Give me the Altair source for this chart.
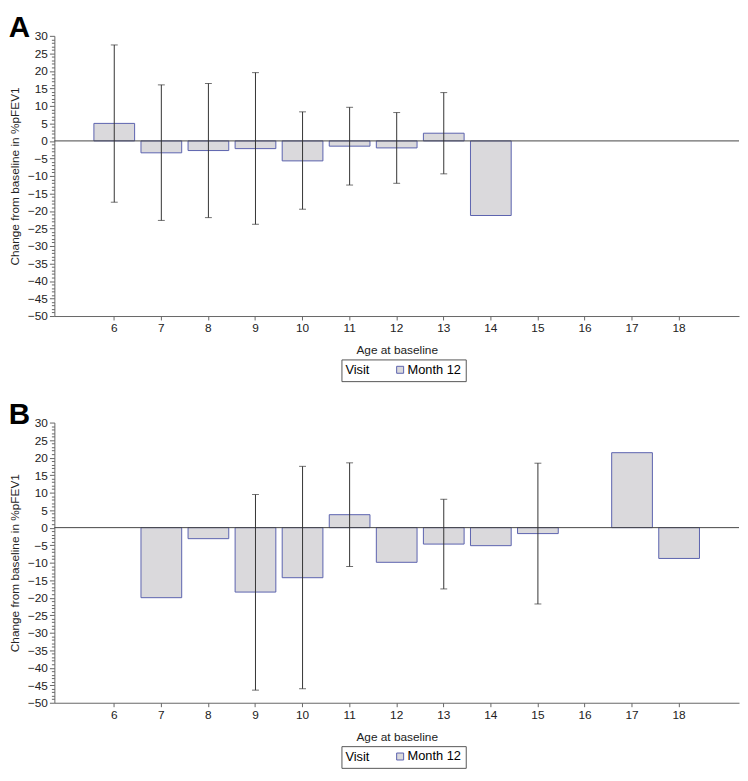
import altair as alt
import pandas as pd

ages = [6, 7, 8, 9, 10, 11, 12, 13, 14, 15, 16, 17, 18]

# Panel A
a_age = [6, 7, 8, 9, 10, 11, 12, 13, 14]
a_mean = [5.0, -3.4, -2.75, -2.2, -5.7, -1.5, -2.0, 2.2, -21.3]
a_err_age = [6, 7, 8, 9, 10, 11, 12, 13]
a_lo = [-17.5, -22.7, -21.9, -23.8, -19.5, -12.6, -12.1, -9.4]
a_hi = [27.4, 16.0, 16.4, 19.5, 8.3, 9.6, 8.1, 13.8]

# Panel B
b_age = [7, 8, 9, 10, 11, 12, 13, 14, 15, 17, 18]
b_mean = [-20.0, -3.15, -18.4, -14.3, 3.7, -9.9, -4.7, -5.15, -1.7, 21.4, -8.8]
b_err_age = [9, 10, 11, 13, 15]
b_lo = [-46.4, -46.0, -11.1, -17.5, -21.8]
b_hi = [9.45, 17.5, 18.5, 8.1, 18.4]

y_ticks = list(range(-50, 31))
zero = [0]
visit = "Month 12"

FONT = "Liberation Sans"
W, H = 694, 284
BAR_FILL = "#dad9dc"
BAR_STROKE = "#5a62ae"
ERR = "#333333"


def panel(letter, age, mean, e_age, lo, hi):
    bars_df = pd.DataFrame({"Age": age, "Mean": mean, "Visit": [visit] * len(age)})
    err_df = pd.DataFrame({"Age": e_age, "lo": lo, "hi": hi})
    zero_df = pd.DataFrame({"v": zero})

    xscale = alt.Scale(domain=ages, paddingInner=0.135, paddingOuter=0.84)
    xaxis = alt.Axis(
        title="Age at baseline",
        labelAngle=0,
        tickSize=4,
        labelPadding=3,
        titlePadding=11,
    )
    yscale = alt.Scale(domain=[-50, 30], nice=False, zero=False)
    yaxis = alt.Axis(
        title="Change from baseline in %pFEV1",
        values=y_ticks,
        labelExpr="datum.value % 5 === 0 ? datum.label : ''",
        labelOverlap=False,
        tickSize=alt.ConditionalAxisNumber(
            condition={"test": "datum.value % 5 === 0", "value": 5}, value=3
        ),
        labelPadding=2,
        titlePadding=6,
        grid=False,
    )

    def X():
        return alt.X("Age:O", scale=xscale, axis=xaxis)

    def Y(f):
        return alt.Y(f, scale=yscale, axis=yaxis)

    bars = alt.Chart(bars_df).mark_bar(stroke=BAR_STROKE, strokeWidth=1).encode(
        x=X(),
        y=Y("Mean:Q"),
        fill=alt.Fill(
            "Visit:N",
            scale=alt.Scale(domain=[visit], range=[BAR_FILL]),
            legend=alt.Legend(
                title="Visit",
                orient="none",
                legendX=W / 2 - 56,
                legendY=H + 44,
                direction="horizontal",
                titleOrient="left",
                titlePadding=24,
                symbolType="square",
                symbolSize=50,
                symbolStrokeColor=BAR_STROKE,
                symbolStrokeWidth=1,
                labelOffset=1,
                strokeColor="#555555",
                padding=4,
                labelFontSize=13,
                titleFontSize=13,
                titleFontWeight="normal",
                labelFont=FONT,
                titleFont=FONT,
                titleBaseline="middle",
            ),
        ),
    )
    zero_rule = alt.Chart(zero_df).mark_rule(color="#444444", strokeWidth=1).encode(
        y=Y("v:Q")
    )
    err_rule = alt.Chart(err_df).mark_rule(color=ERR, strokeWidth=1).encode(
        x=X(), y=Y("lo:Q"), y2="hi:Q"
    )
    cap_lo = alt.Chart(err_df).mark_tick(color=ERR, size=7, thickness=1).encode(
        x=X(), y=Y("lo:Q")
    )
    cap_hi = alt.Chart(err_df).mark_tick(color=ERR, size=7, thickness=1).encode(
        x=X(), y=Y("hi:Q")
    )
    return alt.layer(bars, zero_rule, err_rule, cap_lo, cap_hi).properties(
        width=W,
        height=H,
        title=alt.TitleParams(
            letter,
            anchor="start",
            frame="bounds",
            fontSize=30,
            fontWeight="bold",
            font=FONT,
            color="#000000",
            offset=-13,
        ),
    )


chart = (
    alt.vconcat(
        panel("A", a_age, a_mean, a_err_age, a_lo, a_hi),
        panel("B", b_age, b_mean, b_err_age, b_lo, b_hi),
        spacing=18,
    )
    .resolve_legend(fill="independent")
    .properties(padding=0)
    .configure_view(stroke=None)
    .configure_axis(
        labelFont=FONT,
        titleFont=FONT,
        labelFontSize=12,
        titleFontSize=12,
        titleFontWeight="normal",
        labelColor="#222222",
        titleColor="#222222",
        domainColor="#666666",
        tickColor="#666666",
    )
)

chart.save("out.html", embed_options={"renderer": "svg", "actions": False})
